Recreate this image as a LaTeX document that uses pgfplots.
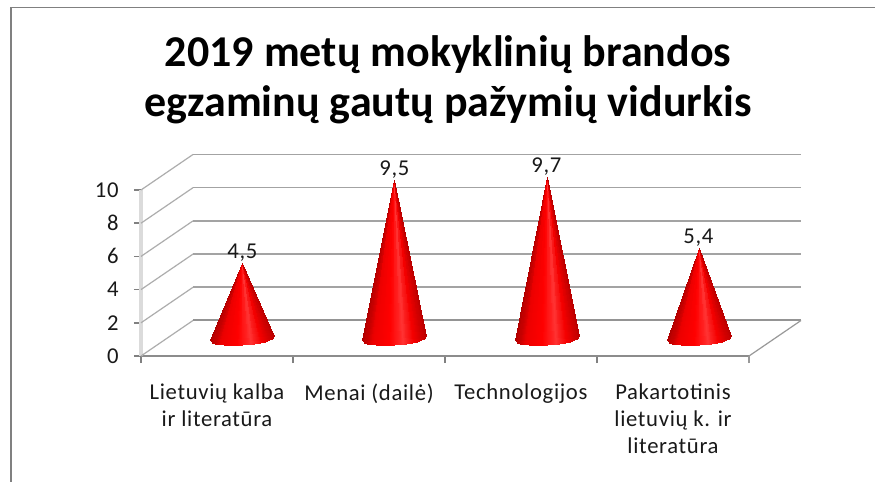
\documentclass[border=0pt]{standalone}
\usepackage{pgfplots}
\usepackage{pgfplotstable}
\pgfplotsset{compat=1.18}
\usepackage{fontspec}
\setmainfont{Carlito}
\newfontfamily\lab[LetterSpace=3]{Carlito}
\pgfplotstableread{
sx sy top m
0 0 1 0.016
-32 -2 0 0
-31.39 -3.33 0 0.03
0 0 1 0.047
-31.39 -3.33 0 0.03
-29.56 -4.53 0 0.062
0 0 1 0.078
-29.56 -4.53 0 0.062
-26.61 -5.55 0 0.094
0 0 1 0.14
-26.61 -5.55 0 0.094
-22.63 -6.36 0 0.19
0 0 1 0.23
-22.63 -6.36 0 0.19
-17.78 -6.93 0 0.27
0 0 1 0.31
-17.78 -6.93 0 0.27
-12.25 -7.24 0 0.35
0 0 1 0.40
-12.25 -7.24 0 0.35
-6.24 -7.26 0 0.44
0 0 1 0.47
-6.24 -7.26 0 0.44
0 -7 0 0.50
0 0 1 0.53
0 -7 0 0.50
6.24 -6.48 0 0.56
0 0 1 0.60
6.24 -6.48 0 0.56
12.25 -5.70 0 0.65
0 0 1 0.69
12.25 -5.70 0 0.65
17.78 -4.71 0 0.73
0 0 1 0.77
17.78 -4.71 0 0.73
22.63 -3.54 0 0.81
0 0 1 0.85
22.63 -3.54 0 0.81
26.61 -2.23 0 0.89
0 0 1 0.91
26.61 -2.23 0 0.89
29.56 -0.83 0 0.93
0 0 1 0.95
29.56 -0.83 0 0.93
31.39 0.59 0 0.97
0 0 1 0.98
31.39 0.59 0 0.97
32 2 0 1
}\coneshape
\begin{document}
\begin{tikzpicture}
\path[use as bounding box,fill=white] (-105.75pt,-94.5pt) rectangle (550.5pt,267pt);
\begin{axis}[
  scale only axis, width=456pt, height=124.5pt,
  xmin=0, xmax=4, ymin=0, ymax=10,
  clip=false,
  axis lines*=left,
  x axis line style={draw=black!45, line width=1.2pt, -},
  y axis line style={draw=black!14, line width=2.4pt, -},
  tick align=outside,
  major tick length=5.25pt,
  tick style={draw=black!50, line width=1.2pt},
  xtick={0,1,2,3,4},
  x tick label as interval=true,
  xticklabels={Lietuvių kalba\\ir literatūra, Menai (dailė), Technologijos, Pakartotinis\\lietuvių k. ir\\literatūra},
  x tick label style={align=center, anchor=north, font=\lab\fontsize{17}{20.25}\selectfont, yshift=-12pt, black!90},
  ytick={0,2,4,6,8,10},
  yticklabels={0,2,4,6,8,10},
  /pgf/number format/assume math mode=true,
  y tick label style={font=\lab\fontsize{17}{20.25}\selectfont, xshift=-8pt, black!90},
  title={\textbf{2019 metų mokyklinių brandos}\\\textbf{egzaminų gautų pažymių vidurkis}},
  title style={at={(0.505,1.615)}, anchor=center, align=center, font=\fontsize{33}{37.5}\selectfont},
  colormap={cone}{color(0)=(red!68!black) color(0.22)=(red!93!black) color(0.45)=(red) color(0.6)=(red!80!white) color(0.75)=(red!96!black) color(1)=(red!72!black)},
  point meta min=0, point meta max=1,
]
\addplot[draw=black!32, line width=0.9pt] coordinates {(0,2)(0.3421,4.139)};
\addplot[draw=black!32, line width=0.9pt] coordinates {(0,4)(0.3421,6.139)};
\addplot[draw=black!32, line width=0.9pt] coordinates {(0,6)(0.3421,8.139)};
\addplot[draw=black!32, line width=0.9pt] coordinates {(0,8)(0.3421,10.139)};
\addplot[draw=black!32, line width=0.9pt] coordinates {(0,10)(0.3421,12.139)};
\addplot[draw=black!32, line width=0.9pt] coordinates {(0,0)(0.3421,2.139)};
\addplot[draw=black!36, line width=1.2pt] coordinates {(0.3421,4.139)(4.3421,4.139)};
\addplot[draw=black!36, line width=1.2pt] coordinates {(0.3421,6.139)(4.3421,6.139)};
\addplot[draw=black!36, line width=1.2pt] coordinates {(0.3421,8.139)(4.3421,8.139)};
\addplot[draw=black!36, line width=1.2pt] coordinates {(0.3421,10.139)(4.3421,10.139)};
\addplot[draw=black!36, line width=1.2pt] coordinates {(0.3421,12.139)(4.3421,12.139)};
\addplot[draw=black!42, line width=1.5pt] coordinates {(0.3421,2.139)(4.3421,2.139)};
\addplot[draw=black!40, line width=0.9pt] coordinates {(4,0)(4.3421,2.139)};
\addplot[draw=black!40, line width=0.9pt] coordinates {(4,0)(4,-0.45)};
% cones
\addplot[patch, shader=interp, xshift=18.75pt, yshift=13.5pt, point meta=explicit]
  table[x expr=0.5+\thisrow{sx}/152, y expr=\thisrow{sy}/16.6+\thisrow{top}*4.5, meta=m] {\coneshape};
\addplot[patch, shader=interp, xshift=18.75pt, yshift=13.5pt, point meta=explicit]
  table[x expr=1.5+\thisrow{sx}/152, y expr=\thisrow{sy}/16.6+\thisrow{top}*9.5, meta=m] {\coneshape};
\addplot[patch, shader=interp, xshift=19.5pt, yshift=13.5pt, point meta=explicit]
  table[x expr=2.5+\thisrow{sx}/152, y expr=\thisrow{sy}/16.6+\thisrow{top}*9.7, meta=m] {\coneshape};
\addplot[patch, shader=interp, xshift=19.5pt, yshift=13.5pt, point meta=explicit]
  table[x expr=3.5+\thisrow{sx}/152, y expr=\thisrow{sy}/16.6+\thisrow{top}*5.4, meta=m] {\coneshape};
% value labels
\addplot[only marks, mark=none, xshift=19pt, yshift=13.5pt, point meta=y,
  nodes near coords={\pgfmathprintnumber[fixed,precision=1,use comma]{\pgfplotspointmeta}},
  every node near coord/.append style={font=\lab\fontsize{17}{20}\selectfont, anchor=south, inner sep=1pt, black!90}]
  coordinates {(0.5,4.5)(1.5,9.5)(2.5,9.7)(3.5,5.4)};
\end{axis}
\draw[black!50, line width=1.2pt] (-97.5pt,-94.5pt) -- (-97.5pt,261.5pt) -- (550.5pt,261.5pt);
\end{tikzpicture}
\end{document}
